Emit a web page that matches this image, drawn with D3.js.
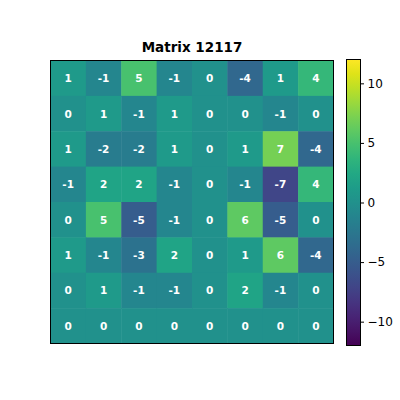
<!DOCTYPE html>
<html><head><meta charset="utf-8">
<script src="https://cdn.jsdelivr.net/npm/d3@7"></script>
<style>body{margin:0;background:#fff}</style>
</head><body>
<script>
const title = "Matrix 12117";
const row0 = [1, -1, 5, -1, 0, -4, 1, 4];
const row1 = [0, 1, -1, 1, 0, 0, -1, 0];
const row2 = [1, -2, -2, 1, 0, 1, 7, -4];
const row3 = [-1, 2, 2, -1, 0, -1, -7, 4];
const row4 = [0, 5, -5, -1, 0, 6, -5, 0];
const row5 = [1, -1, -3, 2, 0, 1, 6, -4];
const row6 = [0, 1, -1, -1, 0, 2, -1, 0];
const row7 = [0, 0, 0, 0, 0, 0, 0, 0];
const rows = [row0, row1, row2, row3, row4, row5, row6, row7];
const colorDomain = [-12, 12];
const cbTicks = [-10, -5, 0, 5, 10];

const W = 400, H = 400;
const svg = d3.select("body").append("svg").attr("width", W).attr("height", H);
const n = rows.length;
const x = d3.scaleBand().domain(d3.range(n)).range([50.5, 333.5]);
const y = d3.scaleBand().domain(d3.range(n)).range([60.5, 343.5]);
const color = d3.scaleSequential(d3.interpolateViridis).domain(colorDomain);

const cells = [];
rows.forEach((r, i) => r.forEach((v, j) => cells.push({i, j, v})));

svg.append("g").selectAll("rect").data(cells).join("rect")
  .attr("x", d => x(d.j)).attr("y", d => y(d.i))
  .attr("width", x.bandwidth() + 0.5).attr("height", y.bandwidth() + 0.5)
  .attr("fill", d => color(d.v));

svg.append("g").selectAll("text").data(cells).join("text")
  .attr("x", d => x(d.j) + x.bandwidth() / 2)
  .attr("y", d => y(d.i) + y.bandwidth() / 2)
  .attr("text-anchor", "middle").attr("dominant-baseline", "central")
  .attr("font-family", "DejaVu Sans").attr("font-weight", "bold")
  .attr("font-size", 10.5).attr("fill", "white")
  .text(d => d.v);

svg.append("rect").attr("x", 50.5).attr("y", 60.5).attr("width", 283).attr("height", 283)
  .attr("fill", "none").attr("stroke", "black").attr("stroke-width", 1);

svg.append("text").attr("x", 192).attr("y", 52)
  .attr("text-anchor", "middle").attr("font-family", "DejaVu Sans")
  .attr("font-weight", "bold").attr("font-size", 13.5).text(title);

// colorbar
const cbX = 346.5, cbW = 14, cbTop = 59.5, cbBot = 345.5;
const cy = d3.scaleLinear().domain(colorDomain).range([cbBot, cbTop]);
const defs = svg.append("defs");
const grad = defs.append("linearGradient").attr("id", "cbg")
  .attr("x1", 0).attr("y1", 1).attr("x2", 0).attr("y2", 0);
d3.range(0, 1.0001, 0.05).forEach(t => grad.append("stop")
  .attr("offset", t).attr("stop-color", d3.interpolateViridis(t)));
svg.append("rect").attr("x", cbX).attr("y", cbTop).attr("width", cbW).attr("height", cbBot - cbTop)
  .attr("fill", "url(#cbg)").attr("stroke", "black").attr("stroke-width", 1);
const ax = svg.append("g").attr("transform", `translate(${cbX + cbW},0)`)
  .call(d3.axisRight(cy).tickValues(cbTicks).tickSize(3.5).tickPadding(3.5)
    .tickFormat(d => d < 0 ? "\u2212" + Math.abs(d) : d));
ax.select(".domain").remove();
ax.selectAll("text").attr("font-family", "DejaVu Sans").attr("font-size", 12).attr("fill", "black");
ax.selectAll("line").attr("stroke", "black");
</script>
</body></html>
